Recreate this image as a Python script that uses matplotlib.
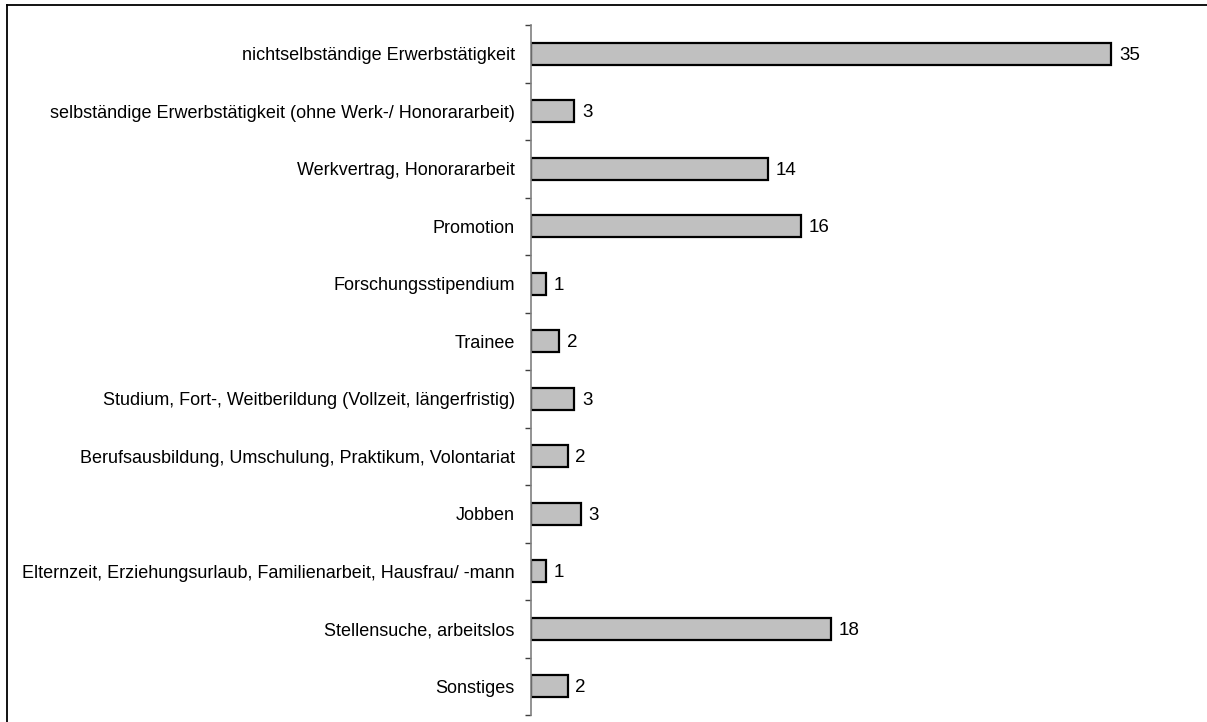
import matplotlib.pyplot as plt
import numpy as np
from matplotlib.lines import Line2D
from matplotlib import font_manager

categories = [
    "nichtselbständige Erwerbstätigkeit",
    "selbständige Erwerbstätigkeit (ohne Werk-/ Honorararbeit)",
    "Werkvertrag, Honorararbeit",
    "Promotion",
    "Forschungsstipendium",
    "Trainee",
    "Studium, Fort-, Weitberildung (Vollzeit, längerfristig)",
    "Berufsausbildung, Umschulung, Praktikum, Volontariat",
    "Jobben",
    "Elternzeit, Erziehungsurlaub, Familienarbeit, Hausfrau/ -mann",
    "Stellensuche, arbeitslos",
    "Sonstiges",
]
values = [35.0, 2.6, 14.3, 16.3, 0.9, 1.7, 2.6, 2.2, 3.0, 0.9, 18.1, 2.2]

names = {f.name for f in font_manager.fontManager.ttflist}
fam = "Liberation Sans Narrow" if "Liberation Sans Narrow" in names else "Liberation Sans"
plt.rcParams['font.family'] = [fam, 'DejaVu Sans']
fs = 12 if fam.endswith("Narrow") else 13

W, H = 1207, 722
fig = plt.figure(figsize=(W / 100, H / 100), dpi=100)
ax = fig.add_axes([531.3 / W, 1 - 715 / H, 663 / W, 690 / H])

n = len(categories)
y = np.arange(n)
ax.barh(y, values, height=0.39, color='#C0C0C0', edgecolor='black', linewidth=1.6)
for yi, v in zip(y, values):
    ax.text(v + 0.45, yi + 0.03, f"{v:.0f}", va='center', ha='left', fontsize=fs + 0.5)

ax.set_xlim(0, 40)
ax.set_ylim(n - 0.5, -0.5)
ax.set_yticks(np.arange(n + 1) - 0.5)
ax.set_yticklabels([])
ax.set_yticks(y, minor=True)
ax.set_yticklabels(categories, minor=True, fontsize=fs)
ax.tick_params(axis='y', which='major', length=4.5, width=1, color='#404040', direction='out')
ax.tick_params(axis='y', which='minor', length=0, pad=12)
ax.set_xticks([])
for s in ['top', 'right', 'bottom']:
    ax.spines[s].set_visible(False)
ax.spines['left'].set_color('#808080')
ax.spines['left'].set_linewidth(1.2)

# frame of the original picture, only top and left edges are visible
fig.add_artist(Line2D([7 / W, 1], [1 - 5 / H, 1 - 5 / H], transform=fig.transFigure,
                      color='black', linewidth=1.3))
fig.add_artist(Line2D([7 / W, 7 / W], [0, 1 - 5 / H], transform=fig.transFigure,
                      color='black', linewidth=1.3))

fig.savefig('out.png', dpi=100)
